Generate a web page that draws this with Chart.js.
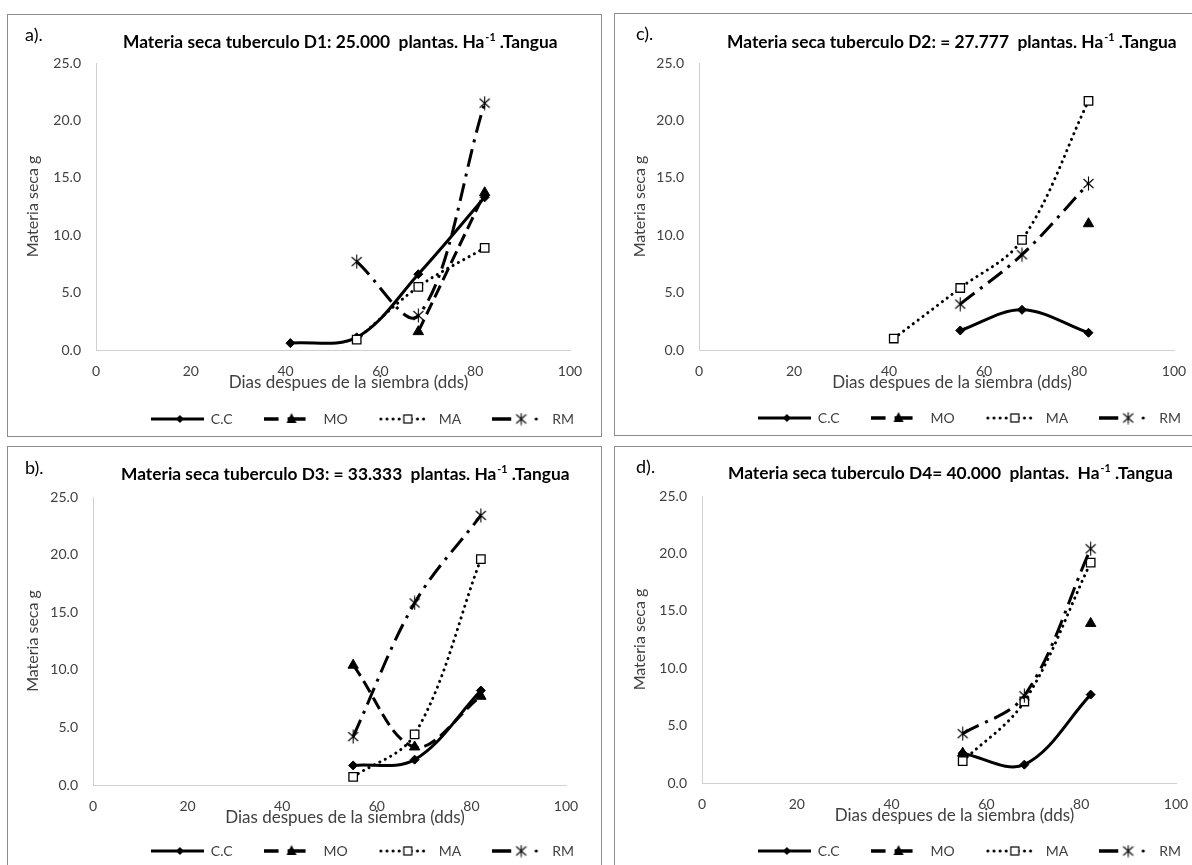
<!DOCTYPE html>
<html><head><meta charset="utf-8">
<script src="https://cdn.jsdelivr.net/npm/chart.js@4.4.1/dist/chart.umd.min.js"></script>
<style>
html,body{margin:0;padding:0;background:#fff;width:1192px;height:865px;overflow:hidden;}
.panel{position:absolute;box-sizing:border-box;width:595px;height:423px;border:1px solid #8c8c8c;background:#fff;}
.panel canvas{position:absolute;left:0;top:0;}
</style></head><body>
<div class="panel" id="p0"><canvas id="c0" width="593" height="421"></canvas></div>
<div class="panel" id="p1"><canvas id="c1" width="593" height="421"></canvas></div>
<div class="panel" id="p2"><canvas id="c2" width="593" height="421"></canvas></div>
<div class="panel" id="p3"><canvas id="c3" width="593" height="421"></canvas></div>
<script>
// ---------------- data ----------------
const days = [41, 55, 68, 82];
const seriesNames = ['C.C', 'MO', 'MA', 'RM'];

const d1_CC = [0.6, 1.1, 6.6, 13.3];
const d1_MO = [null, null, 1.6, 13.7];
const d1_MA = [null, 0.9, 5.5, 8.9];
const d1_RM = [null, 7.7, 3.0, 21.5];

const d2_CC = [null, 1.7, 3.5, 1.5];
const d2_MO = [null, null, null, 11.0];
const d2_MA = [1.0, 5.4, 9.6, 21.7];
const d2_RM = [null, 4.0, 8.3, 14.5];

const d3_CC = [null, 1.7, 2.2, 8.2];
const d3_MO = [null, 10.4, 3.3, 7.7];
const d3_MA = [null, 0.7, 4.4, 19.6];
const d3_RM = [null, 4.2, 15.8, 23.4];

const d4_CC = [null, 2.6, 1.6, 7.7];
const d4_MO = [null, 2.6, null, 13.9];
const d4_MA = [null, 1.9, 7.1, 19.2];
const d4_RM = [null, 4.3, 7.6, 20.4];

const xTicks = [0, 20, 40, 60, 80, 100];
const yTicks = [0, 5, 10, 15, 20, 25];

const panelLabels = ['a).', 'c).', 'b).', 'd).'];
const titleMain = [
  'Materia seca tuberculo D1: 25.000  plantas. Ha',
  'Materia seca tuberculo D2: = 27.777  plantas. Ha',
  'Materia seca tuberculo D3: = 33.333  plantas. Ha',
  'Materia seca tuberculo D4= 40.000  plantas.  Ha'
];
const titleSup = '-1';
const titleEnd = ' .Tangua';
const xAxisTitle = 'Dias despues de la siembra (dds)';
const yAxisTitle = 'Materia seca g';

const panelSeries = [
  [d1_CC, d1_MO, d1_MA, d1_RM],
  [d2_CC, d2_MO, d2_MA, d2_RM],
  [d3_CC, d3_MO, d3_MA, d3_RM],
  [d4_CC, d4_MO, d4_MA, d4_RM]
];

// ---------------- layout (page coordinates) ----------------
const GEOM = [
  {box:[7,14],   x0:96,  x1:570,  yTop:63,  yBot:350, tX:123, tW:435, tB:47.7, lX:25,  lB:41},
  {box:[614,13], x0:699, x1:1174, yTop:63,  yBot:350, tX:727, tW:450, tB:47.7, lX:636, lB:40},
  {box:[7,446],  x0:93,  x1:566,  yTop:497, yBot:785, tX:121, tW:449, tB:480,  lX:25,  lB:474},
  {box:[614,446],x0:702, x1:1176, yTop:496, yBot:783, tX:728, tW:445, tB:479,  lX:636, lB:473}
];
const CW = 593, CH = 421;
const RIGHT_OVER = 4;
const FONT = 'Lato';
const AXIS_TEXT = '#404040';

// ---------------- markers ----------------
function makeStar(size, lw) {
  const c = document.createElement('canvas');
  c.width = size; c.height = size;
  const g = c.getContext('2d');
  const m = size / 2;
  g.strokeStyle = '#000'; g.lineWidth = lw; g.lineCap = 'butt';
  g.beginPath();
  g.moveTo(m, 0.5); g.lineTo(m, size - 0.5);
  g.moveTo(m - 5, m - 4.5); g.lineTo(m + 5, m + 4.5);
  g.moveTo(m - 5, m + 4.5); g.lineTo(m + 5, m - 4.5);
  g.stroke();
  return c;
}
const starMarker = makeStar(15, 1.1);

const STYLE = [
  {dash: [], cap: 'butt', width: 3, point: 'rectRot', radius: 4.5, fill: '#000', pbw: 1},
  {dash: [13, 6], cap: 'butt', width: 3, point: 'triangle', radius: 6, fill: '#000', pbw: 1},
  {dash: [0.1, 6], cap: 'round', width: 3, point: 'rect', radius: 6, fill: '#fff', pbw: 1.3},
  {dash: [18, 7, 3, 7], cap: 'butt', width: 3, point: starMarker, radius: 7, fill: '#000', pbw: 1}
];

const SAMPLE_W = 53;
function legendSample(i) {
  const W = SAMPLE_W, H = 16, y = 8, mx = 29;
  const c = document.createElement('canvas');
  c.width = W; c.height = H;
  const g = c.getContext('2d');
  g.strokeStyle = '#000'; g.fillStyle = '#000';
  if (i === 0) {
    g.lineWidth = 3; g.beginPath(); g.moveTo(0, y); g.lineTo(W, y); g.stroke();
    g.beginPath(); g.moveTo(mx, y - 4); g.lineTo(mx + 4, y); g.lineTo(mx, y + 4); g.lineTo(mx - 4, y); g.closePath(); g.fill();
  } else if (i === 1) {
    g.lineWidth = 3.5; g.beginPath(); g.moveTo(0, y); g.lineTo(15, y); g.moveTo(24, y); g.lineTo(42, y); g.stroke();
    g.beginPath(); g.moveTo(mx - 1, y - 6); g.lineTo(mx + 4, y + 4); g.lineTo(mx - 6, y + 4); g.closePath(); g.fill();
  } else if (i === 2) {
    g.lineWidth = 3; g.lineCap = 'round'; g.setLineDash([0.1, 6]);
    g.beginPath(); g.moveTo(2, y); g.lineTo(49, y); g.stroke();
    g.setLineDash([]);
    g.fillStyle = '#fff'; g.fillRect(mx - 4, y - 4, 8, 8);
    g.lineWidth = 1.2; g.strokeRect(mx - 4, y - 4, 8, 8);
  } else {
    g.lineWidth = 3.5; g.beginPath(); g.moveTo(0, y); g.lineTo(19, y); g.stroke();
    g.beginPath(); g.arc(44, y, 1.6, 0, Math.PI * 2); g.fill();
    g.drawImage(makeStar(13, 1.1), 29 - 6.5, y - 6.5);
  }
  return c;
}
const legendSamples = [0, 1, 2, 3].map(legendSample);

// ---------------- panel text plugin ----------------
const panelText = {
  id: 'panelText',
  afterDraw(chart, args, o) {
    const ctx = chart.ctx;
    const area = chart.chartArea;
    ctx.save();
    // x axis title
    ctx.fillStyle = AXIS_TEXT;
    ctx.textAlign = 'center';
    ctx.textBaseline = 'middle';
    ctx.font = '17px ' + FONT;
    ctx.fillText(xAxisTitle, (area.left + area.right) / 2 + 15.5, area.bottom + 33);
    // panel letter
    ctx.textAlign = 'left';
    ctx.textBaseline = 'alphabetic';
    ctx.fillStyle = '#000';
    ctx.font = '18px ' + FONT;
    ctx.fillText(o.label, o.labelX, o.labelY);
    // chart title with superscript
    const measure = (s) => {
      ctx.font = 'bold ' + s + 'px ' + FONT;
      const a = ctx.measureText(o.main).width;
      const c = ctx.measureText(titleEnd).width;
      ctx.font = 'bold ' + (s * 0.62) + 'px ' + FONT;
      const b = ctx.measureText(titleSup).width;
      return {a, b, c, t: a + b + c + 1};
    };
    const m0 = measure(16);
    const s = Math.max(12, Math.min(19, 16 * o.titleW / m0.t));
    const m = measure(s);
    let x = o.titleX;
    ctx.font = 'bold ' + s + 'px ' + FONT;
    ctx.fillText(o.main, x, o.titleY);
    x += m.a + 1;
    ctx.font = 'bold ' + (s * 0.62) + 'px ' + FONT;
    ctx.fillText(titleSup, x, o.titleY - s * 0.38);
    x += m.b;
    ctx.font = 'bold ' + s + 'px ' + FONT;
    ctx.fillText(titleEnd, x, o.titleY);
    ctx.restore();
  }
};

function build(p) {
  const G = GEOM[p];
  const ox = G.box[0] + 1, oy = G.box[1] + 1;
  const div = document.getElementById('p' + p);
  div.style.left = G.box[0] + 'px';
  div.style.top = G.box[1] + 'px';
  const plotL = G.x0 - ox, plotR = G.x1 - ox, plotT = G.yTop - oy, plotB = G.yBot - oy;
  const legendPad = 31, legendFont = 14;
  const legendH = legendFont + legendPad + 10;
  const legendTop = CH - legendH;
  const xH = legendTop - plotB;
  const yTitleFont = 16, yTitleLH = yTitleFont * 1.2;
  const yTitleCenter = 25;
  const yTitlePadTop = yTitleCenter - yTitleLH / 2;

  const datasets = panelSeries[p].map((vals, i) => {
    const st = STYLE[i];
    return {
      label: seriesNames[i],
      data: days.map((d, k) => ({x: d, y: vals[k]})),
      showLine: true,
      spanGaps: false,
      tension: 0.35,
      borderColor: '#000',
      backgroundColor: st.fill,
      borderWidth: st.width,
      borderDash: st.dash,
      borderCapStyle: st.cap,
      pointStyle: st.point,
      pointRadius: st.radius,
      pointHoverRadius: st.radius,
      pointBackgroundColor: st.fill,
      pointBorderColor: '#000',
      pointBorderWidth: st.pbw,
      xAxisID: 'x',
      yAxisID: 'y',
      order: 3 - i
    };
  });

  new Chart(document.getElementById('c' + p), {
    type: 'scatter',
    data: {datasets},
    plugins: [panelText],
    options: {
      responsive: false,
      animation: false,
      events: [],
      layout: {padding: {top: plotT, left: 0, right: -RIGHT_OVER, bottom: 0}},
      scales: {
        x: {
          type: 'linear', position: 'bottom', min: 0, max: 100,
          afterBuildTicks: (s) => { s.ticks = xTicks.map(v => ({value: v})); },
          afterFit: (s) => { s.height = xH; },
          ticks: {padding: 13, autoSkip: false, maxRotation: 0, color: AXIS_TEXT, font: {family: FONT, size: 14}},
          grid: {display: false, drawTicks: false},
          border: {display: true, color: '#d0d0d0', width: 1},
          title: {display: false}
        },
        y: {
          type: 'linear', position: 'left', min: 0, max: 25,
          afterBuildTicks: (s) => { s.ticks = yTicks.map(v => ({value: v})); },
          afterFit: (s) => { s.width = plotL; },
          ticks: {padding: 15, color: AXIS_TEXT, font: {family: FONT, size: 14}, callback: (v) => Number(v).toFixed(1)},
          grid: {display: false, drawTicks: false},
          border: {display: true, color: '#d0d0d0', width: 1},
          title: {display: true, text: yAxisTitle, color: AXIS_TEXT, font: {family: FONT, size: yTitleFont}, padding: {top: yTitlePadTop, bottom: 0}}
        },
        yR: {
          type: 'linear', position: 'right', min: 0, max: 25, display: true,
          afterFit: (s) => { s.width = CW + RIGHT_OVER - plotR; },
          ticks: {display: false},
          grid: {display: false, drawTicks: false},
          border: {display: false},
          title: {display: false}
        }
      },
      plugins: {
        title: {display: false},
        tooltip: {enabled: false},
        legend: {
          display: true, position: 'bottom', align: 'end',
          labels: {
            usePointStyle: true, pointStyleWidth: SAMPLE_W, padding: legendPad,
            color: AXIS_TEXT, font: {family: FONT, size: legendFont},
            generateLabels: () => seriesNames.map((n, i) => ({
              text: n, pointStyle: legendSamples[i], fillStyle: '#000', strokeStyle: '#000',
              lineWidth: 0, hidden: false, datasetIndex: i, fontColor: AXIS_TEXT
            }))
          }
        },
        panelText: {
          label: panelLabels[p], labelX: G.lX - ox, labelY: G.lB - oy,
          main: titleMain[p], titleX: G.tX - ox, titleY: G.tB - oy, titleW: G.tW
        }
      }
    }
  });
}

Chart.defaults.font.family = FONT;
const ready = (document.fonts && document.fonts.load)
  ? Promise.all([document.fonts.load('16px Lato'), document.fonts.load('bold 16px Lato')]).catch(() => {})
  : Promise.resolve();
ready.then(() => { for (let p = 0; p < 4; p++) build(p); });
</script>
</body></html>
